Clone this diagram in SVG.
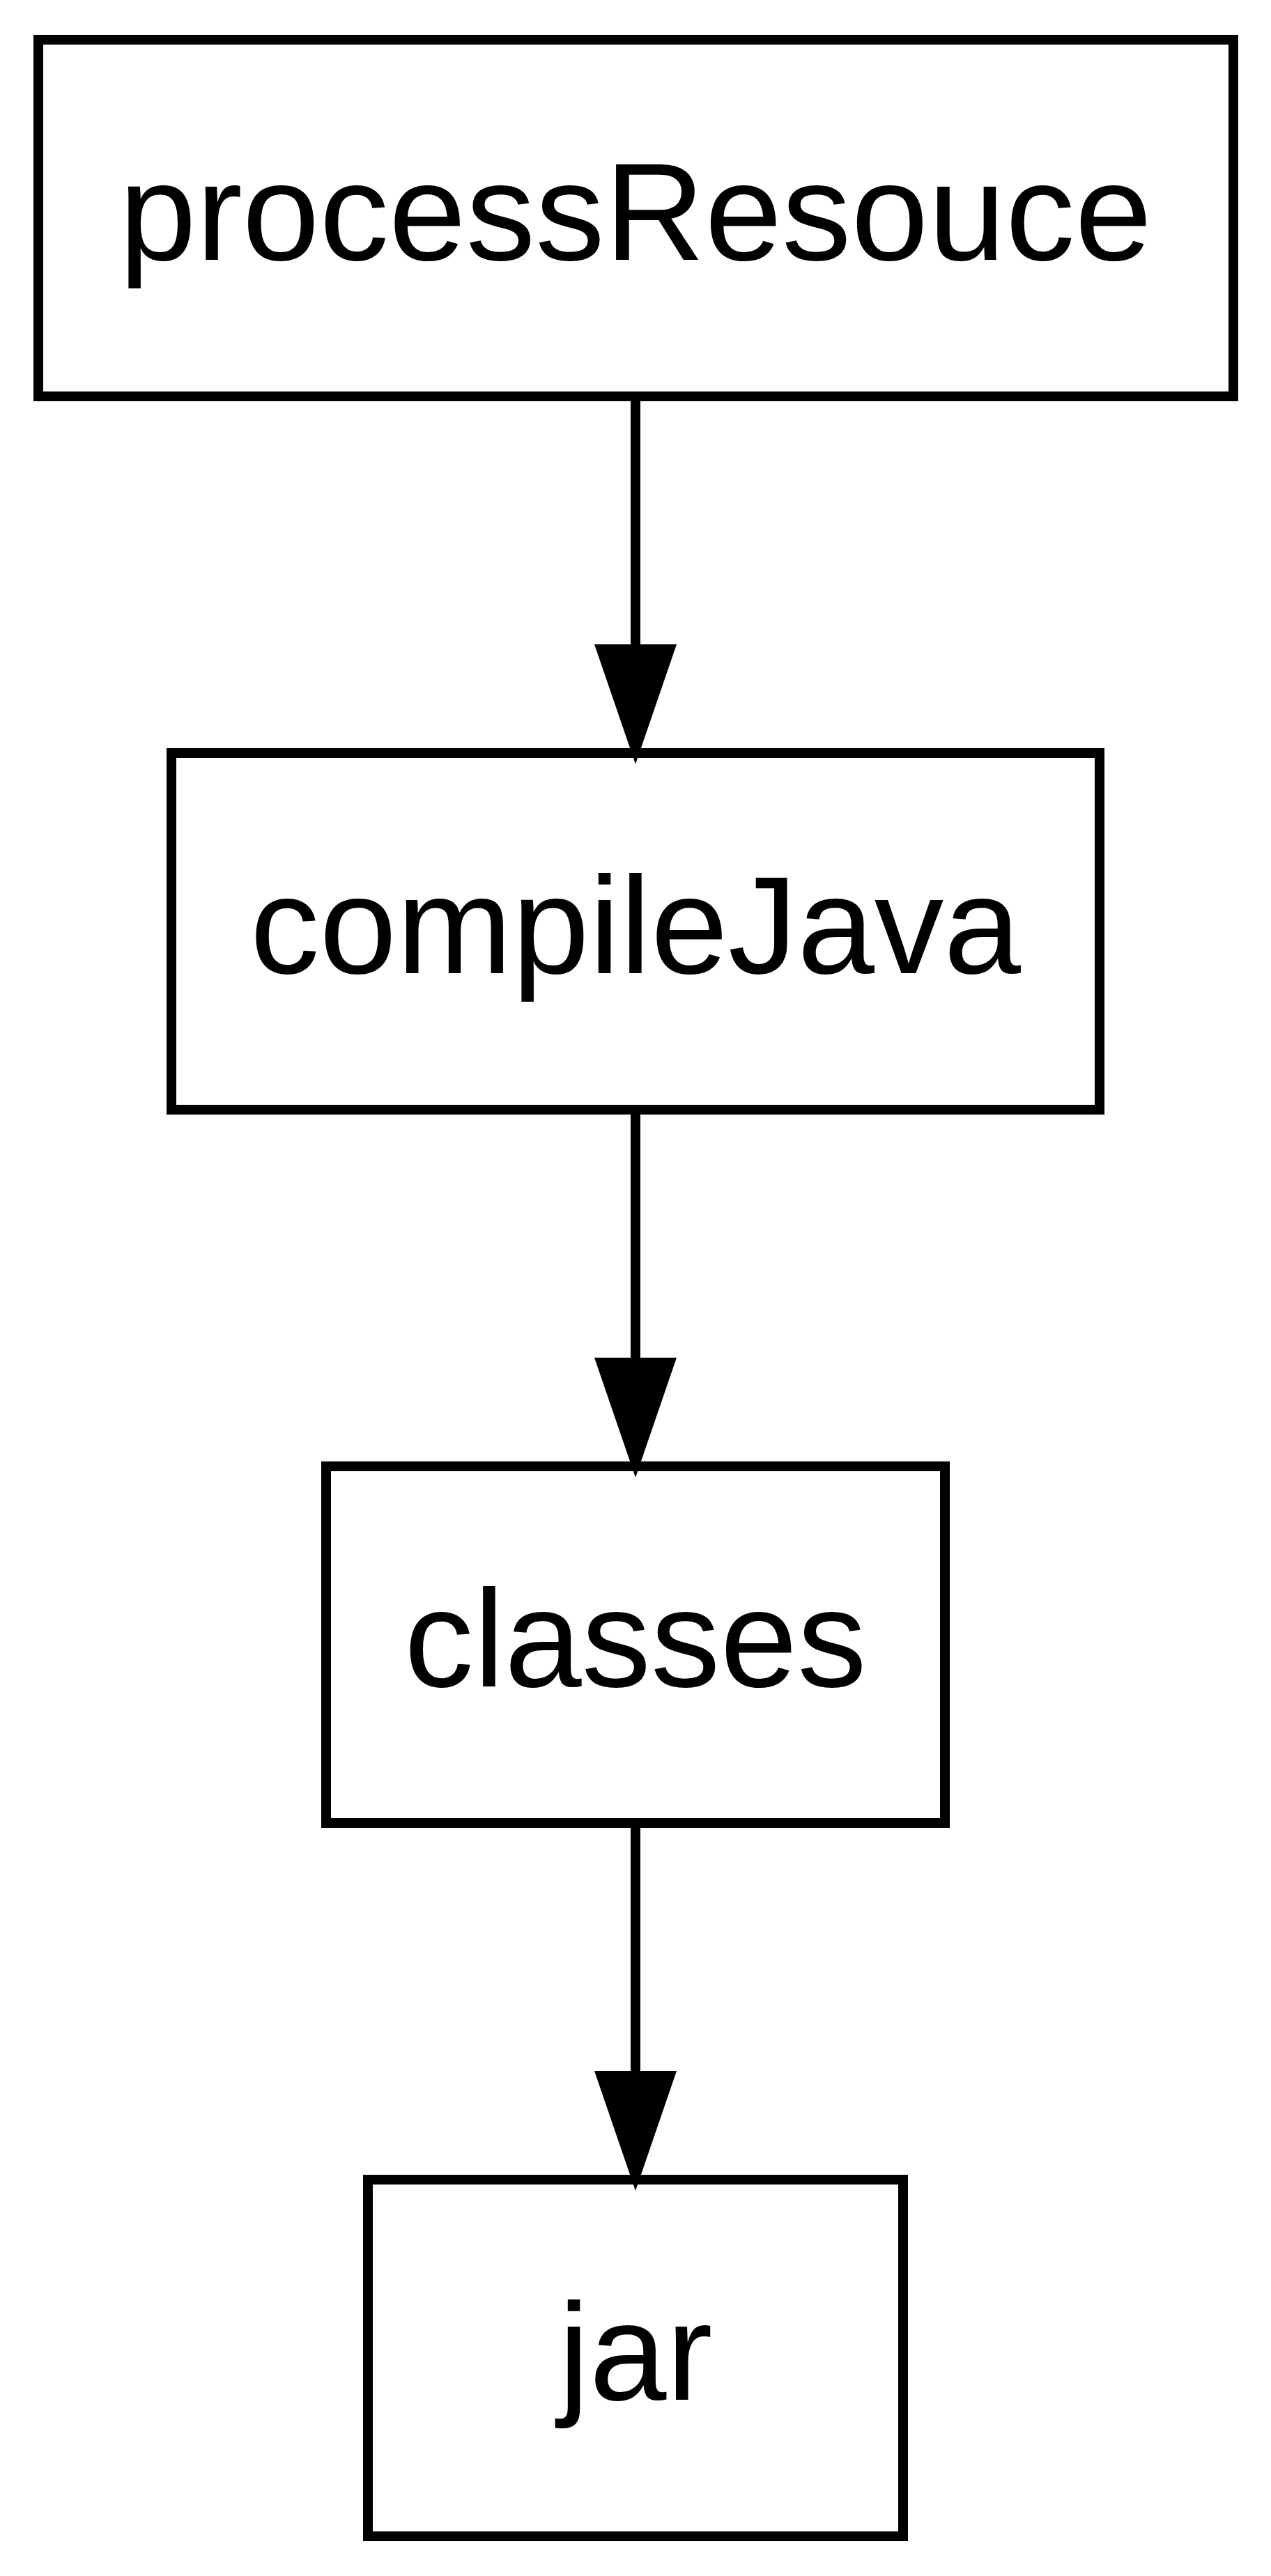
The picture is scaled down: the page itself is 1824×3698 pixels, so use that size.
<svg xmlns="http://www.w3.org/2000/svg" width="1824" height="3698" viewBox="0 0 1824 3698">
<style>
.box{fill:none;stroke:#000;stroke-width:14}
.lbl{font-family:"Liberation Sans",Arial,Helvetica,sans-serif;font-size:199px;fill:#000;text-anchor:middle}
.edge{stroke:#000;stroke-width:14;fill:none}
.head{fill:#000;stroke:none}
</style>
<rect x="0" y="0" width="1824" height="3698" fill="#fff"/>
<g id="connectors">
<line class="edge" x1="912" y1="569" x2="912" y2="930"/>
<polygon class="head" points="853,925 971,925 912,1097"/>
<line class="edge" x1="912" y1="1593" x2="912" y2="1954"/>
<polygon class="head" points="853,1949 971,1949 912,2121"/>
<line class="edge" x1="912" y1="2617" x2="912" y2="2978"/>
<polygon class="head" points="853,2973 971,2973 912,3145"/>
</g>
<g id="processResouce">
<rect class="box" x="55" y="57" width="1715" height="512"/>
<text class="lbl" x="912" y="373">processResouce</text>
</g>
<g id="compileJava">
<rect class="box" x="246" y="1081" width="1332" height="512"/>
<text class="lbl" x="912" y="1397">compileJava</text>
</g>
<g id="classes">
<rect class="box" x="468" y="2105" width="888" height="512"/>
<text class="lbl" x="912" y="2421">classes</text>
</g>
<g id="jar">
<rect class="box" x="528" y="3129" width="768" height="512"/>
<text class="lbl" x="912" y="3445">jar</text>
</g>
</svg>
